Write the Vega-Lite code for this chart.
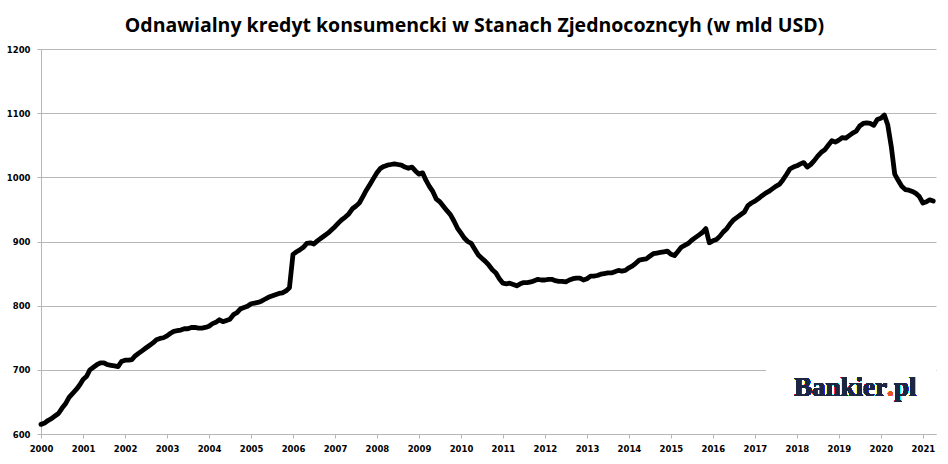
{
  "$schema": "https://vega.github.io/schema/vega-lite/v6.json",
  "description": "Revolving consumer credit in the US, monthly, bn USD",
  "width": 895,
  "height": 385,
  "autosize": {"type": "none"},
  "padding": {"left": 41, "top": 49, "right": 12, "bottom": 30},
  "background": "white",
  "title": {
    "text": "Odnawialny kredyt konsumencki w Stanach Zjednocozncyh (w mld USD)",
    "font": "Open Sans",
    "fontSize": 19.5,
    "fontWeight": "bold",
    "color": "#000000",
    "anchor": "middle",
    "baseline": "alphabetic",
    "offset": -6,
    "dx": -14
  },
  "config": {
    "view": {"stroke": null},
    "axis": {
      "labelFont": "DejaVu Sans",
      "labelFontSize": 8.5,
      "labelFontWeight": "bold",
      "labelColor": "#000000",
      "domainColor": "#b7b7b7",
      "tickColor": "#b7b7b7",
      "gridColor": "#b7b7b7",
      "tickSize": 4,
      "labelFlush": false,
      "title": null
    }
  },
  "data": {
    "values": [
      {"d": "2000/01/01", "v": 615}, {"d": "2000/02/01", "v": 617}, {"d": "2000/03/01", "v": 621}, {"d": "2000/04/01", "v": 624},
      {"d": "2000/05/01", "v": 628}, {"d": "2000/06/01", "v": 632}, {"d": "2000/07/01", "v": 640}, {"d": "2000/08/01", "v": 647},
      {"d": "2000/09/01", "v": 657}, {"d": "2000/10/01", "v": 663}, {"d": "2000/11/01", "v": 669}, {"d": "2000/12/01", "v": 676},
      {"d": "2001/01/01", "v": 685}, {"d": "2001/02/01", "v": 690}, {"d": "2001/03/01", "v": 700}, {"d": "2001/04/01", "v": 704},
      {"d": "2001/05/01", "v": 708}, {"d": "2001/06/01", "v": 711}, {"d": "2001/07/01", "v": 711}, {"d": "2001/08/01", "v": 708},
      {"d": "2001/09/01", "v": 707}, {"d": "2001/10/01", "v": 706}, {"d": "2001/11/01", "v": 705}, {"d": "2001/12/01", "v": 713},
      {"d": "2002/01/01", "v": 715}, {"d": "2002/02/01", "v": 715}, {"d": "2002/03/01", "v": 716}, {"d": "2002/04/01", "v": 722},
      {"d": "2002/05/01", "v": 726}, {"d": "2002/06/01", "v": 730}, {"d": "2002/07/01", "v": 734}, {"d": "2002/08/01", "v": 738},
      {"d": "2002/09/01", "v": 742}, {"d": "2002/10/01", "v": 747}, {"d": "2002/11/01", "v": 749}, {"d": "2002/12/01", "v": 750},
      {"d": "2003/01/01", "v": 753}, {"d": "2003/02/01", "v": 757}, {"d": "2003/03/01", "v": 760}, {"d": "2003/04/01", "v": 761},
      {"d": "2003/05/01", "v": 762}, {"d": "2003/06/01", "v": 764}, {"d": "2003/07/01", "v": 764}, {"d": "2003/08/01", "v": 766},
      {"d": "2003/09/01", "v": 766}, {"d": "2003/10/01", "v": 765}, {"d": "2003/11/01", "v": 765}, {"d": "2003/12/01", "v": 766},
      {"d": "2004/01/01", "v": 768}, {"d": "2004/02/01", "v": 772}, {"d": "2004/03/01", "v": 774}, {"d": "2004/04/01", "v": 778},
      {"d": "2004/05/01", "v": 775}, {"d": "2004/06/01", "v": 777}, {"d": "2004/07/01", "v": 779}, {"d": "2004/08/01", "v": 786},
      {"d": "2004/09/01", "v": 789}, {"d": "2004/10/01", "v": 795}, {"d": "2004/11/01", "v": 797}, {"d": "2004/12/01", "v": 799},
      {"d": "2005/01/01", "v": 803}, {"d": "2005/02/01", "v": 804}, {"d": "2005/03/01", "v": 805}, {"d": "2005/04/01", "v": 807},
      {"d": "2005/05/01", "v": 810}, {"d": "2005/06/01", "v": 813}, {"d": "2005/07/01", "v": 815}, {"d": "2005/08/01", "v": 817},
      {"d": "2005/09/01", "v": 819}, {"d": "2005/10/01", "v": 820}, {"d": "2005/11/01", "v": 823}, {"d": "2005/12/01", "v": 828},
      {"d": "2006/01/01", "v": 880}, {"d": "2006/02/01", "v": 884}, {"d": "2006/03/01", "v": 887}, {"d": "2006/04/01", "v": 891},
      {"d": "2006/05/01", "v": 897}, {"d": "2006/06/01", "v": 898}, {"d": "2006/07/01", "v": 896}, {"d": "2006/08/01", "v": 901},
      {"d": "2006/09/01", "v": 905}, {"d": "2006/10/01", "v": 909}, {"d": "2006/11/01", "v": 913}, {"d": "2006/12/01", "v": 918},
      {"d": "2007/01/01", "v": 923}, {"d": "2007/02/01", "v": 929}, {"d": "2007/03/01", "v": 934}, {"d": "2007/04/01", "v": 938},
      {"d": "2007/05/01", "v": 943}, {"d": "2007/06/01", "v": 951}, {"d": "2007/07/01", "v": 955}, {"d": "2007/08/01", "v": 960},
      {"d": "2007/09/01", "v": 970}, {"d": "2007/10/01", "v": 980}, {"d": "2007/11/01", "v": 989}, {"d": "2007/12/01", "v": 998},
      {"d": "2008/01/01", "v": 1007}, {"d": "2008/02/01", "v": 1014}, {"d": "2008/03/01", "v": 1017}, {"d": "2008/04/01", "v": 1019},
      {"d": "2008/05/01", "v": 1020}, {"d": "2008/06/01", "v": 1021}, {"d": "2008/07/01", "v": 1020}, {"d": "2008/08/01", "v": 1019},
      {"d": "2008/09/01", "v": 1016}, {"d": "2008/10/01", "v": 1014}, {"d": "2008/11/01", "v": 1016}, {"d": "2008/12/01", "v": 1010},
      {"d": "2009/01/01", "v": 1005}, {"d": "2009/02/01", "v": 1007}, {"d": "2009/03/01", "v": 996}, {"d": "2009/04/01", "v": 986},
      {"d": "2009/05/01", "v": 978}, {"d": "2009/06/01", "v": 966}, {"d": "2009/07/01", "v": 962}, {"d": "2009/08/01", "v": 955},
      {"d": "2009/09/01", "v": 948}, {"d": "2009/10/01", "v": 942}, {"d": "2009/11/01", "v": 932}, {"d": "2009/12/01", "v": 921},
      {"d": "2010/01/01", "v": 913}, {"d": "2010/02/01", "v": 905}, {"d": "2010/03/01", "v": 900}, {"d": "2010/04/01", "v": 897},
      {"d": "2010/05/01", "v": 888}, {"d": "2010/06/01", "v": 879}, {"d": "2010/07/01", "v": 874}, {"d": "2010/08/01", "v": 869},
      {"d": "2010/09/01", "v": 863}, {"d": "2010/10/01", "v": 856}, {"d": "2010/11/01", "v": 851}, {"d": "2010/12/01", "v": 842},
      {"d": "2011/01/01", "v": 835}, {"d": "2011/02/01", "v": 834}, {"d": "2011/03/01", "v": 835}, {"d": "2011/04/01", "v": 833},
      {"d": "2011/05/01", "v": 831}, {"d": "2011/06/01", "v": 834}, {"d": "2011/07/01", "v": 836}, {"d": "2011/08/01", "v": 836},
      {"d": "2011/09/01", "v": 837}, {"d": "2011/10/01", "v": 839}, {"d": "2011/11/01", "v": 841}, {"d": "2011/12/01", "v": 840},
      {"d": "2012/01/01", "v": 840}, {"d": "2012/02/01", "v": 841}, {"d": "2012/03/01", "v": 841}, {"d": "2012/04/01", "v": 839},
      {"d": "2012/05/01", "v": 838}, {"d": "2012/06/01", "v": 838}, {"d": "2012/07/01", "v": 837}, {"d": "2012/08/01", "v": 840},
      {"d": "2012/09/01", "v": 842}, {"d": "2012/10/01", "v": 843}, {"d": "2012/11/01", "v": 843}, {"d": "2012/12/01", "v": 840},
      {"d": "2013/01/01", "v": 842}, {"d": "2013/02/01", "v": 846}, {"d": "2013/03/01", "v": 846}, {"d": "2013/04/01", "v": 847},
      {"d": "2013/05/01", "v": 849}, {"d": "2013/06/01", "v": 850}, {"d": "2013/07/01", "v": 851}, {"d": "2013/08/01", "v": 851},
      {"d": "2013/09/01", "v": 853}, {"d": "2013/10/01", "v": 855}, {"d": "2013/11/01", "v": 854}, {"d": "2013/12/01", "v": 855},
      {"d": "2014/01/01", "v": 859}, {"d": "2014/02/01", "v": 862}, {"d": "2014/03/01", "v": 866}, {"d": "2014/04/01", "v": 871},
      {"d": "2014/05/01", "v": 872}, {"d": "2014/06/01", "v": 873}, {"d": "2014/07/01", "v": 877}, {"d": "2014/08/01", "v": 881},
      {"d": "2014/09/01", "v": 882}, {"d": "2014/10/01", "v": 883}, {"d": "2014/11/01", "v": 884}, {"d": "2014/12/01", "v": 885},
      {"d": "2015/01/01", "v": 880}, {"d": "2015/02/01", "v": 878}, {"d": "2015/03/01", "v": 884}, {"d": "2015/04/01", "v": 891},
      {"d": "2015/05/01", "v": 894}, {"d": "2015/06/01", "v": 897}, {"d": "2015/07/01", "v": 902}, {"d": "2015/08/01", "v": 906},
      {"d": "2015/09/01", "v": 910}, {"d": "2015/10/01", "v": 914}, {"d": "2015/11/01", "v": 920}, {"d": "2015/12/01", "v": 898},
      {"d": "2016/01/01", "v": 901}, {"d": "2016/02/01", "v": 903}, {"d": "2016/03/01", "v": 908}, {"d": "2016/04/01", "v": 915},
      {"d": "2016/05/01", "v": 920}, {"d": "2016/06/01", "v": 928}, {"d": "2016/07/01", "v": 934}, {"d": "2016/08/01", "v": 938},
      {"d": "2016/09/01", "v": 942}, {"d": "2016/10/01", "v": 946}, {"d": "2016/11/01", "v": 956}, {"d": "2016/12/01", "v": 960},
      {"d": "2017/01/01", "v": 963}, {"d": "2017/02/01", "v": 967}, {"d": "2017/03/01", "v": 971}, {"d": "2017/04/01", "v": 975},
      {"d": "2017/05/01", "v": 978}, {"d": "2017/06/01", "v": 982}, {"d": "2017/07/01", "v": 986}, {"d": "2017/08/01", "v": 989},
      {"d": "2017/09/01", "v": 996}, {"d": "2017/10/01", "v": 1004}, {"d": "2017/11/01", "v": 1013}, {"d": "2017/12/01", "v": 1016},
      {"d": "2018/01/01", "v": 1018}, {"d": "2018/02/01", "v": 1021}, {"d": "2018/03/01", "v": 1023}, {"d": "2018/04/01", "v": 1016},
      {"d": "2018/05/01", "v": 1020}, {"d": "2018/06/01", "v": 1026}, {"d": "2018/07/01", "v": 1033}, {"d": "2018/08/01", "v": 1039},
      {"d": "2018/09/01", "v": 1043}, {"d": "2018/10/01", "v": 1050}, {"d": "2018/11/01", "v": 1057}, {"d": "2018/12/01", "v": 1055},
      {"d": "2019/01/01", "v": 1058}, {"d": "2019/02/01", "v": 1062}, {"d": "2019/03/01", "v": 1061}, {"d": "2019/04/01", "v": 1065},
      {"d": "2019/05/01", "v": 1069}, {"d": "2019/06/01", "v": 1072}, {"d": "2019/07/01", "v": 1080}, {"d": "2019/08/01", "v": 1084},
      {"d": "2019/09/01", "v": 1085}, {"d": "2019/10/01", "v": 1084}, {"d": "2019/11/01", "v": 1081}, {"d": "2019/12/01", "v": 1090},
      {"d": "2020/01/01", "v": 1092}, {"d": "2020/02/01", "v": 1097}, {"d": "2020/03/01", "v": 1082}, {"d": "2020/04/01", "v": 1048},
      {"d": "2020/05/01", "v": 1005}, {"d": "2020/06/01", "v": 995}, {"d": "2020/07/01", "v": 986}, {"d": "2020/08/01", "v": 981},
      {"d": "2020/09/01", "v": 980}, {"d": "2020/10/01", "v": 978}, {"d": "2020/11/01", "v": 975}, {"d": "2020/12/01", "v": 970},
      {"d": "2021/01/01", "v": 960}, {"d": "2021/02/01", "v": 962}, {"d": "2021/03/01", "v": 965}, {"d": "2021/04/01", "v": 963}
    ]
  },
  "encoding": {
    "x": {
      "field": "d",
      "type": "temporal",
      "scale": {"domain": [{"year": 2000, "month": 1, "date": 1}, {"year": 2021, "month": 4, "date": 25}]},
      "axis": {
        "format": "%Y",
        "tickCount": {"interval": "year", "step": 1},
        "labelOverlap": false,
        "labelPadding": 6,
        "grid": false
      }
    },
    "y": {
      "field": "v",
      "type": "quantitative",
      "scale": {"domain": [600, 1200], "zero": false, "nice": false},
      "axis": {
        "values": [600, 700, 800, 900, 1000, 1100, 1200],
        "format": "d",
        "labelPadding": 7,
        "grid": true
      }
    }
  },
  "layer": [
    {
      "mark": {"type": "line", "color": "#000000", "strokeWidth": 4.8, "strokeJoin": "round", "strokeCap": "round"}
    },
    {
      "mark": {"type": "rect", "color": "#ffffff"},
      "encoding": {
        "x": {"datum": {"year": 2017, "month": 4, "date": 8}, "type": "temporal"},
        "x2": {"datum": {"year": 2021, "month": 4, "date": 25}},
        "y": {"datum": 650, "type": "quantitative"},
        "y2": {"datum": 740}
      }
    },
    {
      "mark": {"type": "text", "align": "right", "baseline": "alphabetic", "font": "Liberation Serif", "fontWeight": "bold", "fontSize": 27, "color": "#1c2541"},
      "encoding": {
        "x": {"datum": {"year": 2020, "month": 2, "date": 24}, "type": "temporal"},
        "y": {"datum": 659, "type": "quantitative"},
        "text": {"value": "Bankier"}
      }
    },
    {
      "mark": {"type": "text", "align": "left", "baseline": "alphabetic", "font": "Liberation Serif", "fontWeight": "bold", "fontSize": 27, "color": "#e8502a"},
      "encoding": {
        "x": {"datum": {"year": 2020, "month": 2, "date": 24}, "type": "temporal"},
        "y": {"datum": 659, "type": "quantitative"},
        "text": {"value": "."}
      }
    },
    {
      "mark": {"type": "text", "align": "left", "baseline": "alphabetic", "dx": 7, "font": "Liberation Serif", "fontWeight": "bold", "fontSize": 27, "color": "#1c2541"},
      "encoding": {
        "x": {"datum": {"year": 2020, "month": 2, "date": 24}, "type": "temporal"},
        "y": {"datum": 659, "type": "quantitative"},
        "text": {"value": "pl"}
      }
    }
  ]
}
